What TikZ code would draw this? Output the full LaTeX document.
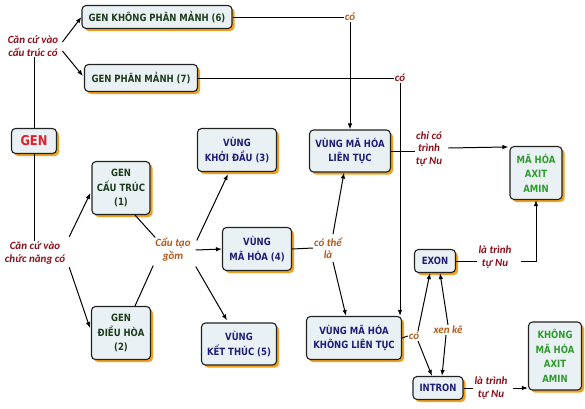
\documentclass[tikz,border=0pt]{standalone}
\usepackage{fontspec}
\setmainfont{DejaVu Sans}
\newfontfamily\boxfont{DejaVu Sans}[FakeStretch=0.85]
\newfontfamily\labfont{Carlito}
\usetikzlibrary{shadows,arrows.meta,calc}
\definecolor{boxfill}{HTML}{EAF1F4}
\definecolor{bordc}{HTML}{222222}
\definecolor{shadc}{HTML}{F2A020}
\definecolor{navyc}{HTML}{1F1F78}
\definecolor{dgreenc}{HTML}{1E3C1E}
\definecolor{greenc}{HTML}{2E9A2E}
\definecolor{redc}{HTML}{E0202A}
\definecolor{lredc}{HTML}{8B0F1A}
\definecolor{lbrownc}{HTML}{B05A1A}
\begin{document}
\begin{tikzpicture}[x=1pt,y=-1pt,
  box/.style={draw=bordc, line width=1.1pt, rounded corners=4pt, fill=boxfill,
    drop shadow={fill=shadc, shadow xshift=2.5pt, shadow yshift=-2.5pt, opacity=1},
    align=center, inner sep=1pt,
    font=\boxfont\bfseries\fontsize{10}{14.5}\selectfont},
  navybox/.style={box, text=navyc},
  dgbox/.style={box, text=dgreenc},
  gbox/.style={box, text=greenc},
  lab/.style={font=\labfont\bfseries\itshape\fontsize{11}{12.5}\selectfont, align=center, inner sep=1pt},
  lred/.style={lab, text=lredc},
  lbrown/.style={lab, text=lbrownc},
  arr/.style={-{Latex[length=6pt,width=4.5pt]}, line width=1pt},
  ln/.style={line width=1pt}]
\useasboundingbox (0,0) rectangle (585,408);

% boxes
\node[dgbox, minimum width=150, minimum height=23] (b6) at (157,17) {GEN KHÔNG PHÂN MẢNH (6)};
\node[dgbox, minimum width=113, minimum height=27] (b7) at (141,78) {GEN PHÂN MẢNH (7)};
\node[box, text=redc, minimum width=45, minimum height=25, font=\boxfont\bfseries\fontsize{13.5}{14}\selectfont] (gen) at (34,141) {GEN};
\node[dgbox, minimum width=58, minimum height=53] (b1) at (121,188) {GEN\\CẤU TRÚC\\(1)};
\node[dgbox, minimum width=59, minimum height=53] (b2) at (121,333) {GEN\\ĐIỀU HÒA\\(2)};
\node[navybox, minimum width=79, minimum height=43] (b3) at (237,150) {VÙNG\\KHỞI ĐẦU (3)};
\node[navybox, minimum width=69, minimum height=43] (b4) at (257,249) {VÙNG\\MÃ HÓA (4)};
\node[navybox, minimum width=75, minimum height=42] (b5) at (239,344) {VÙNG\\KẾT THÚC (5)};
\node[navybox, minimum width=81, minimum height=42] (lt) at (350,151) {VÙNG MÃ HÓA\\LIÊN TỤC};
\node[navybox, minimum width=95, minimum height=43] (klt) at (354,338) {VÙNG MÃ HÓA\\KHÔNG LIÊN TỤC};
\node[gbox, minimum width=52, minimum height=53] (aa) at (536,173) {MÃ HÓA\\AXIT\\AMIN};
\node[navybox, minimum width=41, minimum height=23] (exon) at (435,261) {EXON};
\node[navybox, minimum width=50, minimum height=23] (intron) at (438,388) {INTRON};
\node[gbox, minimum width=53, minimum height=68] (kaa) at (555,356) {KHÔNG\\MÃ HÓA\\AXIT\\AMIN};

% labels
\node[lred] (l1) at (33,46) {Căn cứ vào\\cấu trúc có};
\node[lred] (l2) at (35,253) {Căn cứ vào\\chức năng có};
\node[lbrown] (l3) at (173,250) {Cấu tạo\\gồm};
\node[lbrown] (co1) at (350,17) {có};
\node[lred] (co2) at (400,78) {có};
\node[lbrown] (l4) at (328,248) {có thể\\là};
\node[lred] (l5) at (429,149) {chỉ có\\trình\\tự Nu};
\node[lred] (l6) at (495,257) {là trình\\tự Nu};
\node[lbrown] (co3) at (414,336) {có};
\node[lbrown] (xk) at (448,330) {xen kẽ};
\node[lred] (l7) at (491,388) {là trình\\tự Nu};

% connectors
\draw[arr] ($(l1.east)+(3,-4)$) -- (b6.west);
\draw[arr] ($(l1.east)+(3,5)$) -- ($(b7.west)+(-1,-2)$);
\draw[ln] (gen.north) -- (gen.north |- l1.south);
\draw[ln] (gen.south) -- (gen.south |- l2.north);
\draw[arr] ($(l2.north east)+(3,-4)$) -- ($(b1.west)+(-1,5)$);
\draw[arr] ($(l2.south east)+(3,2)$) -- ($(b2.west)+(-1,-5)$);
\draw[ln] ($(b1.south)+(14,0)$) -- ($(l3.north west)+(1,0)$);
\draw[ln] ($(b2.north)+(14,0)$) -- ($(l3.south west)+(-1,3)$);
\draw[arr] ($(l3.north east)+(5,3)$) -- ($(b3.south)+(-9,2)$);
\draw[arr] ($(l3.east)+(4,0)$) -- (b4.west);
\draw[arr] ($(l3.south east)+(4,4)$) -- ($(b5.north)+(-12,-2)$);
\draw[ln] (b4.east) -- (l4.west);
\draw[arr] ($(l4.north)+(5,-2)$) -- ($(lt.south)+(-6,0)$);
\draw[arr] ($(l4.south)+(5,2)$) -- ($(klt.north)+(-8,0)$);
\draw[ln] (b6.east) -- (co1.west);
\draw[arr] (co1.south) -- (co1.south |- lt.north);
\draw[ln] (b7.east) -- (co2.west);
\draw[arr] (co2.south) -- (co2.south |- klt.north);
\draw[ln] (lt.east) -- (lt.east -| l5.west);
\draw[arr] ($(l5.east)+(5,-1)$) -- ($(aa.north west)+(-1,1)$);
\draw[ln] (exon.east) -- (exon.east -| l6.west);
\draw[arr] (l6.east |- exon.east) ++(8,0) -| (aa.south);
\draw[ln] (klt.east) -- (co3.west);
\draw[arr] ($(co3.north)+(4,0)$) -- ($(exon.south)+(-5,0)$);
\draw[arr] ($(co3.south)+(4,0)$) -- ($(intron.north)+(-6,0)$);
\draw[arr] ($(xk.north)+(0,0)$) -- ($(exon.south)+(5,0)$);
\draw[arr] ($(xk.south)+(-2,0)$) -- ($(intron.north)+(4,0)$);
\draw[ln] (intron.east) -- (l7.west);
\draw[arr] ($(l7.east)+(4,0)$) -- (kaa.west |- intron.east);
\end{tikzpicture}
\end{document}
